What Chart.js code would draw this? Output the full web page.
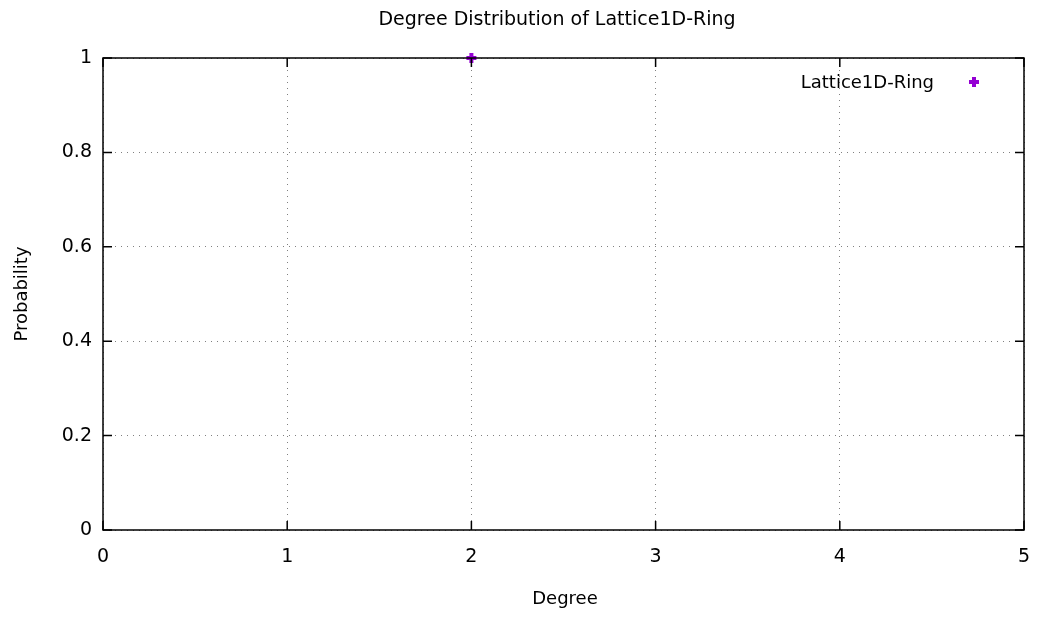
<!DOCTYPE html>
<html>
<head>
<meta charset="utf-8">
<script src="https://cdn.jsdelivr.net/npm/chart.js@4/dist/chart.umd.min.js"></script>
<style>
html,body{margin:0;padding:0;background:#fff;}
#wrap{width:1043px;height:617px;position:relative;}
</style>
</head>
<body>
<div id="wrap"><canvas id="c" width="1043" height="617"></canvas></div>
<script>
const chartTitle = 'Degree Distribution of Lattice1D-Ring';
const xAxisTitle = 'Degree';
const yAxisTitle = 'Probability';
const seriesName = 'Lattice1D-Ring';
const degrees = [2];
const probabilities = [1];
const xTickValues = [0, 1, 2, 3, 4, 5];
const xTickLabels = ['0', '1', '2', '3', '4', '5'];
const yTickValues = [0, 0.2, 0.4, 0.6, 0.8, 1];
const yTickLabels = ['0', '0.2', '0.4', '0.6', '0.8', '1'];

const FONT = "'DejaVu Sans', sans-serif";
const FS = 18;
const TFS = 19;
const COLOR = '#9400d3';

const points = degrees.map((d, i) => ({x: d, y: probabilities[i]}));

function labelFor(values, labels, v) {
  const i = values.findIndex(t => Math.abs(t - v) < 1e-9);
  return i >= 0 ? labels[i] : '';
}

const framePlugin = {
  id: 'frame',
  afterDatasetsDraw(chart) {
    const {ctx, chartArea: a, scales} = chart;
    ctx.save();
    ctx.strokeStyle = '#000';
    ctx.lineWidth = 1.5;
    ctx.beginPath();
    ctx.rect(a.left, a.top, a.right - a.left, a.bottom - a.top);
    ctx.stroke();
    const tl = 9;
    ctx.beginPath();
    xTickValues.forEach(v => {
      const px = scales.x.getPixelForValue(v);
      ctx.moveTo(px, a.bottom); ctx.lineTo(px, a.bottom - tl);
      ctx.moveTo(px, a.top); ctx.lineTo(px, a.top + tl);
    });
    yTickValues.forEach(v => {
      const py = scales.y.getPixelForValue(v);
      ctx.moveTo(a.left, py); ctx.lineTo(a.left + tl, py);
      ctx.moveTo(a.right, py); ctx.lineTo(a.right - tl, py);
    });
    ctx.stroke();
    ctx.restore();
  },
  afterDraw(chart) {
    const {ctx} = chart;
    const ds = chart.data.datasets[0];
    ctx.save();
    ctx.fillStyle = '#000';
    ctx.textAlign = 'center';
    ctx.textBaseline = 'middle';
    ctx.font = TFS + 'px ' + FONT;
    ctx.fillText(chartTitle, 557, 20);
    ctx.font = FS + 'px ' + FONT;
    ctx.fillText(xAxisTitle, 565, 599);
    ctx.save();
    ctx.translate(22, 294);
    ctx.rotate(-Math.PI / 2);
    ctx.fillText(yAxisTitle, 0, 0);
    ctx.restore();
    ctx.textAlign = 'right';
    ctx.fillText(ds.label, 934, 83);
    ctx.restore();
    ctx.save();
    ctx.strokeStyle = ds.borderColor;
    ctx.lineWidth = 4;
    const mx = 974, my = 82, r = 5;
    ctx.beginPath();
    ctx.moveTo(mx - r, my); ctx.lineTo(mx + r, my);
    ctx.moveTo(mx, my - r); ctx.lineTo(mx, my + r);
    ctx.stroke();
    ctx.restore();
  }
};

new Chart(document.getElementById('c'), {
  type: 'scatter',
  data: {
    datasets: [{
      label: seriesName,
      data: points,
      pointStyle: 'cross',
      pointRadius: 5,
      pointHoverRadius: 5,
      borderWidth: 4,
      borderColor: COLOR,
      backgroundColor: COLOR,
      clip: false
    }]
  },
  options: {
    responsive: false,
    animation: false,
    events: [],
    layout: {padding: {top: 58, right: 19, left: 0, bottom: 0}},
    plugins: {legend: {display: false}, tooltip: {enabled: false}, title: {display: false}},
    scales: {
      x: {
        type: 'linear', min: 0, max: 5,
        afterBuildTicks(s) { s.ticks = xTickValues.map(v => ({value: v})); },
        afterFit(s) { s.height = 87; s.paddingLeft = 0; s.paddingRight = 0; },
        border: {display: false, dash: [1, 5]},
        grid: {color: '#808080', lineWidth: 1, drawTicks: false},
        ticks: {
          padding: 16, color: '#000', font: {family: FONT, size: TFS},
          callback: v => labelFor(xTickValues, xTickLabels, v),
          maxRotation: 0, autoSkip: false
        }
      },
      y: {
        type: 'linear', min: 0, max: 1,
        afterBuildTicks(s) { s.ticks = yTickValues.map(v => ({value: v})); },
        afterFit(s) { s.width = 103; s.paddingTop = 0; s.paddingBottom = 0; },
        border: {display: false, dash: [1, 5]},
        grid: {color: '#808080', lineWidth: 1, drawTicks: false},
        ticks: {
          padding: 11, color: '#000', font: {family: FONT, size: TFS},
          callback: v => labelFor(yTickValues, yTickLabels, v),
          autoSkip: false
        }
      }
    }
  },
  plugins: [framePlugin]
});
</script>
</body>
</html>
